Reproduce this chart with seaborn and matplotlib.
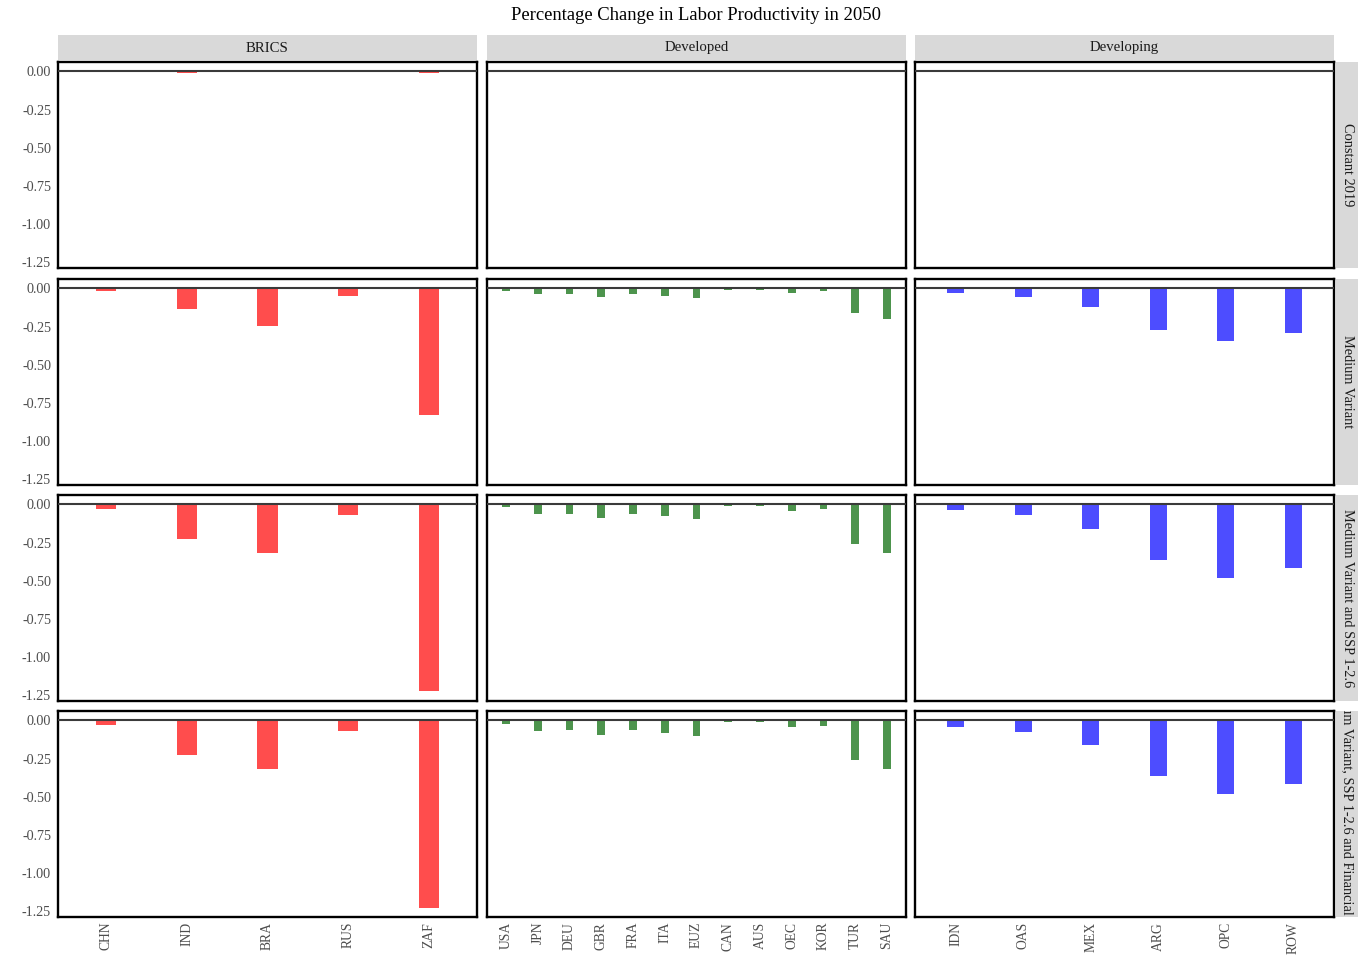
import matplotlib
matplotlib.use("Agg")
import matplotlib.pyplot as plt
from matplotlib.patches import Rectangle
import seaborn as sns
import numpy as np

# ---- data -------------------------------------------------------------
groups = ["BRICS", "Developed", "Developing"]
scenarios = ["Constant 2019", "Medium Variant", "Medium Variant and SSP 1-2.6",
             "Medium Variant, SSP 1-2.6 and Financial"]

brics = ["CHN", "IND", "BRA", "RUS", "ZAF"]
developed = ["USA", "JPN", "DEU", "GBR", "FRA", "ITA", "EUZ", "CAN", "AUS",
             "OEC", "KOR", "TUR", "SAU"]
developing = ["IDN", "OAS", "MEX", "ARG", "OPC", "ROW"]

# Constant 2019
c2019_brics = [-0.001, -0.012, -0.002, -0.001, -0.012]
c2019_developed = [0.0, -0.001, -0.001, -0.001, -0.001, -0.001, -0.001, 0.0, 0.0,
                   -0.001, 0.0, -0.004, -0.004]
c2019_developing = [-0.001, -0.001, -0.001, -0.002, -0.006, -0.006]

# Medium Variant
mv_brics = [-0.02, -0.136, -0.246, -0.05, -0.83]
mv_developed = [-0.017, -0.039, -0.039, -0.056, -0.039, -0.052, -0.06, -0.009,
                -0.009, -0.028, -0.02, -0.162, -0.203]
mv_developing = [-0.032, -0.058, -0.125, -0.274, -0.345, -0.289]

# Medium Variant and SSP 1-2.6
ssp_brics = [-0.033, -0.225, -0.32, -0.07, -1.22]
ssp_developed = [-0.017, -0.065, -0.06, -0.089, -0.06, -0.078, -0.099, -0.009,
                 -0.009, -0.041, -0.032, -0.257, -0.32]
ssp_developing = [-0.039, -0.071, -0.162, -0.363, -0.479, -0.415]

# Medium Variant, SSP 1-2.6 and Financial
fin_brics = [-0.032, -0.227, -0.32, -0.069, -1.226]
fin_developed = [-0.022, -0.071, -0.063, -0.093, -0.063, -0.082, -0.101, -0.011,
                 -0.011, -0.045, -0.037, -0.257, -0.32]
fin_developing = [-0.041, -0.073, -0.164, -0.363, -0.481, -0.419]

yticks = [0.0, -0.25, -0.5, -0.75, -1.0, -1.25]
ytick_labels = ["0.00", "-0.25", "-0.50", "-0.75", "-1.00", "-1.25"]

group_regions = [brics, developed, developing]
group_colors = ["#FF4D4D", "#4D944D", "#4D4DFF"]
values = [
    [c2019_brics, c2019_developed, c2019_developing],
    [mv_brics, mv_developed, mv_developing],
    [ssp_brics, ssp_developed, ssp_developing],
    [fin_brics, fin_developed, fin_developing],
]

# ---- style ------------------------------------------------------------
sns.set_style("white")
plt.rcParams["font.family"] = ["Liberation Serif", "DejaVu Serif"]

W, H = 1358, 955
fig = plt.figure(figsize=(W / 100, H / 100), dpi=100)


def fbox(x0, y0, x1, y1):
    """Pixel box (top-left origin) -> figure fraction [l, b, w, h]."""
    return [x0 / W, 1 - y1 / H, (x1 - x0) / W, (y1 - y0) / H]


col_px = [(58, 477), (487, 906), (915, 1334)]
row_px = [(62, 268), (279, 485), (495, 701), (711, 917)]

all_vals = np.concatenate([np.ravel(v) for row in values for v in row])
lo, hi = min(all_vals.min(), 0.0), max(all_vals.max(), 0.0)
pad = 0.05 * (hi - lo)
ylim = (lo - pad, hi + pad)

tick_col = "#4D4D4D"
for r, (y0, y1) in enumerate(row_px):
    for c, (x0, x1) in enumerate(col_px):
        ax = fig.add_axes(fbox(x0, y0, x1, y1))
        cats = group_regions[c]
        vals = values[r][c]
        sns.barplot(x=cats, y=vals, order=cats, color=group_colors[c],
                    saturation=1, width=0.25, ax=ax, edgecolor="none")
        ax.axhline(0, color="#3A3A3A", linewidth=1.5, zorder=3)
        n = len(cats)
        ax.set_xlim(-0.6, n - 1 + 0.6)
        ax.set_ylim(*ylim)
        ax.set_xlabel("")
        ax.set_ylabel("")
        for sp in ax.spines.values():
            sp.set_visible(True)
            sp.set_color("black")
            sp.set_linewidth(1.7)
        ax.set_yticks(yticks)
        if c == 0:
            ax.set_yticklabels(ytick_labels, fontsize=10.2, color=tick_col)
            ax.tick_params(axis="y", length=3, width=0.8, color="#333333", pad=2)
        else:
            ax.tick_params(axis="y", length=0, labelleft=False)
        ax.set_xticks(range(n))
        if r == len(row_px) - 1:
            ax.set_xticklabels(cats, rotation=90, fontsize=9.8, color=tick_col)
            ax.tick_params(axis="x", length=2.5, width=0.8, color="#333333", pad=1)
        else:
            ax.tick_params(axis="x", length=0, labelbottom=False)

# column strips
strip_col = "#D9D9D9"
for c, (x0, x1) in enumerate(col_px):
    fig.add_artist(Rectangle((x0 / W, 1 - 60 / H), (x1 - x0) / W, 25 / H,
                             transform=fig.transFigure, facecolor=strip_col,
                             edgecolor="none"))
    fig.text((x0 + x1) / 2 / W, 1 - 48 / H, groups[c], ha="center", va="center",
             fontsize=10.6, color="#1A1A1A")

# row strips (text clipped to the strip)
for r, (y0, y1) in enumerate(row_px):
    rect = Rectangle((1336 / W, 1 - y1 / H), 30 / W, (y1 - y0) / H,
                     transform=fig.transFigure, facecolor=strip_col,
                     edgecolor="none")
    fig.add_artist(rect)
    if r == len(row_px) - 1:
        t = fig.text(1347 / W, 1 - (y1 - 2) / H, scenarios[r], rotation=-90,
                     ha="center", va="bottom", fontsize=10.4, color="#1A1A1A")
    else:
        t = fig.text(1347 / W, 1 - (y0 + y1) / 2 / H, scenarios[r], rotation=-90,
                     ha="center", va="center", fontsize=10.4, color="#1A1A1A")
    t.set_clip_path(rect)

fig.text(696 / W, 1 - 16 / H, "Percentage Change in Labor Productivity in 2050",
         ha="center", va="center", fontsize=13.4, color="black")

fig.savefig("out.png", dpi=100, facecolor="white")
